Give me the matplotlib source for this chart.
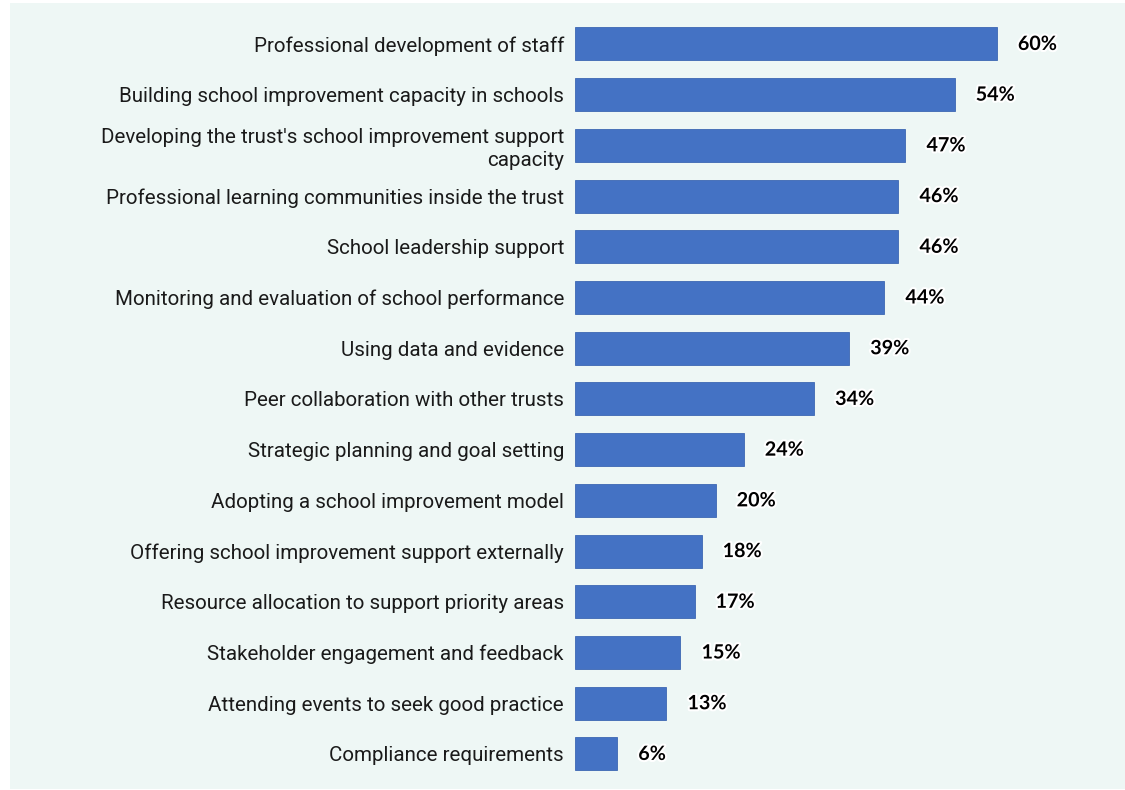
import matplotlib.pyplot as plt
import matplotlib.patheffects as pe
from matplotlib.patches import Rectangle

categories = [
    "Professional development of staff",
    "Building school improvement capacity in schools",
    "Developing the trust's school improvement support\ncapacity",
    "Professional learning communities inside the trust",
    "School leadership support",
    "Monitoring and evaluation of school performance",
    "Using data and evidence",
    "Peer collaboration with other trusts",
    "Strategic planning and goal setting",
    "Adopting a school improvement model",
    "Offering school improvement support externally",
    "Resource allocation to support priority areas",
    "Stakeholder engagement and feedback",
    "Attending events to seek good practice",
    "Compliance requirements",
]
values = [60, 54, 47, 46, 46, 44, 39, 34, 24, 20, 18, 17, 15, 13, 6]

bg = "#eef7f5"
bar_color = "#4472c4"

fig = plt.figure(figsize=(11.25, 7.9), dpi=100)
fig.patch.set_facecolor("white")
# tinted panel behind everything
fig.patches.append(Rectangle((10 / 1125, 1 / 790), 1 - 10 / 1125, 786 / 790,
                             transform=fig.transFigure, facecolor=bg,
                             edgecolor="none", zorder=-5))

# axes spans from bar origin to right edge of the panel
ax = fig.add_axes([575 / 1125, 10.7 / 790, (1125 - 575) / 1125, 760.7 / 790])
ax.set_facecolor("none")

ypos = list(range(len(categories)))
ax.barh(ypos, values, height=0.65, color=bar_color, edgecolor="#3d67b3",
        linewidth=0.6)
ax.set_xlim(0, 550 / 7.03)
ax.set_ylim(len(categories) - 0.5, -0.5)

ax.set_yticks(ypos)
ax.set_yticklabels(categories, fontsize=14.8, family="Roboto", color="#1a1a1a",
                   linespacing=1.25)
ax.tick_params(axis="y", length=0, pad=8)
ax.set_xticks([])
for s in ax.spines.values():
    s.set_visible(False)

for y, v in zip(ypos, values):
    ax.text(v + 3.0, y, f"{v}%", va="center", ha="left", fontsize=14.2,
            fontweight="bold", family="Lato", color="#000000",
            path_effects=[pe.withStroke(linewidth=3, foreground="white")])

fig.savefig("out.png", dpi=100)
